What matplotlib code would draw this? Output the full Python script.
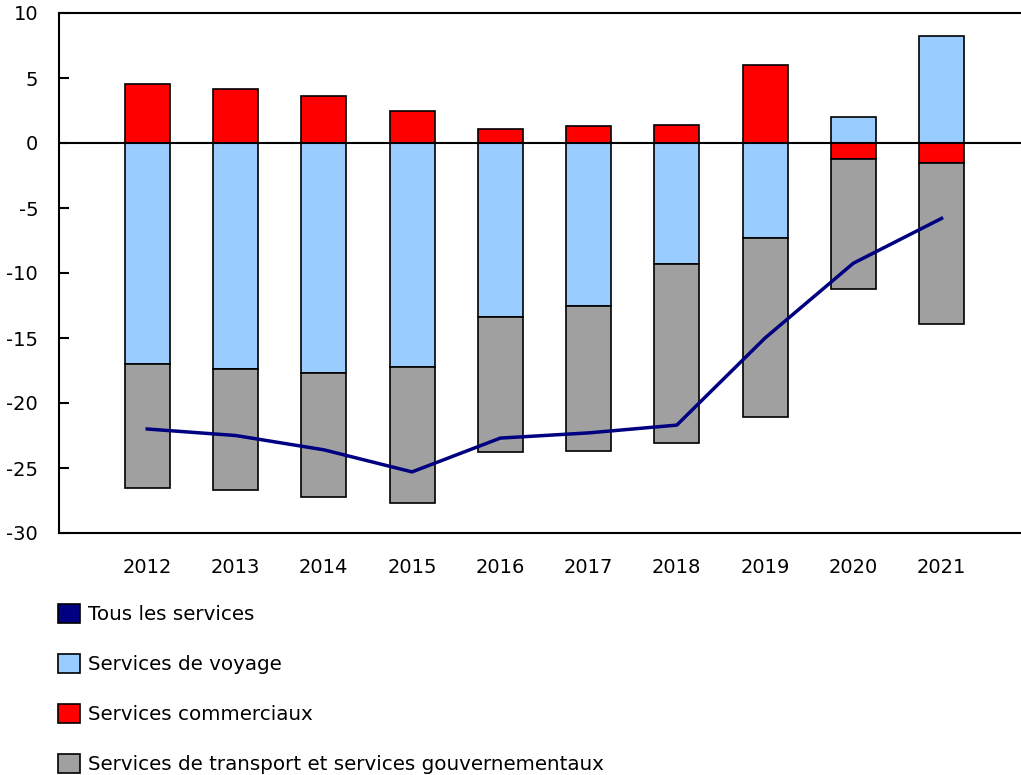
import matplotlib.pyplot as plt
from matplotlib.patches import Patch
import numpy as np

years = ["2012", "2013", "2014", "2015", "2016", "2017", "2018", "2019", "2020", "2021"]
travel = [-17.0, -17.4, -17.7, -17.2, -13.4, -12.5, -9.3, -7.3, 2.0, 8.25]
commercial = [4.54, 4.15, 3.6, 2.46, 1.1, 1.3, 1.4, 6.0, -1.2, -1.55]
transport_gov = [-9.5, -9.3, -9.5, -10.5, -10.4, -11.2, -13.8, -13.8, -10.05, -12.4]
total = [-22.0, -22.5, -23.6, -25.3, -22.7, -22.3, -21.7, -15.0, -9.25, -5.8]

labels = ["Tous les services", "Services de voyage", "Services commerciaux",
          "Services de transport et services gouvernementaux"]
colors = ["#000080", "#99CCFF", "#FF0000", "#A0A0A0"]

plt.rcParams["font.family"] = "DejaVu Sans"
plt.rcParams["font.size"] = 14
plt.rcParams["axes.unicode_minus"] = False

fig = plt.figure(figsize=(10.21, 7.75), dpi=100)
ax = fig.add_axes([59 / 1021, 242 / 775, 962 / 1021, 520 / 775])

x = np.arange(len(years))
pos = np.zeros(len(years))
neg = np.zeros(len(years))
for vals, col in zip([travel, commercial, transport_gov], colors[1:]):
    vals = np.array(vals)
    bottom = np.where(vals >= 0, pos, neg)
    ax.bar(x, vals, 0.51, bottom=bottom, color=col, edgecolor="black", linewidth=1.2, zorder=2)
    pos = pos + np.where(vals >= 0, vals, 0)
    neg = neg + np.where(vals < 0, vals, 0)

ax.axhline(0, color="black", linewidth=1.5, zorder=3)
ax.plot(x, total, color=colors[0], linewidth=2.5, zorder=4)

ax.set_xlim(-1.0, 9.9)
ax.set_ylim(-30, 10)
ax.set_yticks(range(-30, 11, 5))
ax.set_xticks(x)
ax.set_xticklabels(years)
ax.tick_params(axis="y", direction="in", length=7, width=1.5, pad=15)
ax.tick_params(axis="x", length=0, pad=18)
for s in ["left", "bottom", "top"]:
    ax.spines[s].set_linewidth(1.5)
ax.spines["right"].set_visible(False)

handles = [Patch(facecolor=c, edgecolor="black", linewidth=1.2) for c in colors]
fig.legend(handles, labels, loc="upper left", bbox_to_anchor=(58 / 1021, 1 - 604 / 775),
           frameon=False, handlelength=1.1, handleheight=1.1, handletextpad=0.4,
           labelspacing=1.49, borderpad=0, borderaxespad=0, fontsize=14.3)

plt.savefig("out.png", dpi=100)
